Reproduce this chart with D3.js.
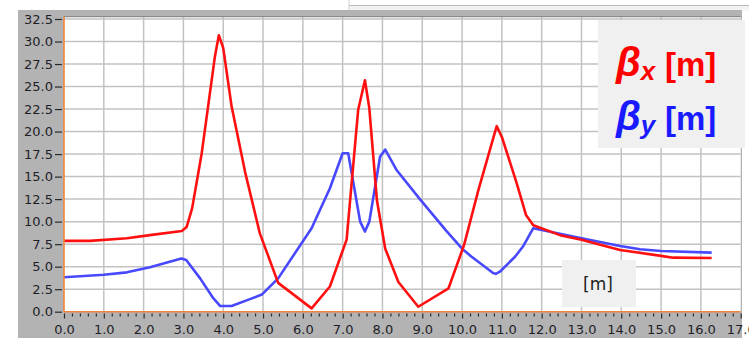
<!DOCTYPE html>
<html>
<head>
<meta charset="utf-8">
<script src="https://cdn.jsdelivr.net/npm/d3@7"></script>
<style>
  html, body { margin: 0; padding: 0; background: #ffffff; }
  svg { display: block; }
</style>
</head>
<body>
<svg id="chart" width="749" height="338"></svg>
<script>
// ---- data ----
const sPosX = [0, 0.65, 1.58, 2.16, 2.96, 3.08, 3.22, 3.46, 3.79, 3.89, 4.0, 4.21, 4.55, 4.92, 5.38, 6.22, 6.68, 7.1, 7.39, 7.56, 7.67, 7.86, 8.07, 8.4, 8.9, 9.66, 10.05, 10.41, 10.87, 11.0, 11.37, 11.61, 11.79, 12.46, 13.0, 13.97, 15.0, 15.3, 16.27];
const betaX = [7.86, 7.86, 8.15, 8.5, 8.97, 9.4, 11.5, 17.6, 28.3, 30.7, 29.3, 22.8, 15.5, 8.7, 3.2, 0.37, 2.8, 8.0, 22.4, 25.7, 22.6, 12.4, 7.0, 3.3, 0.55, 2.6, 7.4, 13.5, 20.6, 19.4, 14.3, 10.7, 9.6, 8.5, 8.0, 6.85, 6.2, 6.0, 5.97];
const sPosY = [0, 1.0, 1.58, 2.16, 2.95, 3.07, 3.42, 3.75, 3.92, 4.21, 4.67, 4.97, 5.38, 6.22, 6.68, 7.0, 7.14, 7.44, 7.56, 7.67, 7.94, 8.07, 8.36, 8.94, 9.6, 10.0, 10.24, 10.78, 10.85, 10.95, 11.33, 11.54, 11.79, 13.0, 13.97, 14.47, 15.0, 16.27];
const betaY = [3.82, 4.1, 4.37, 4.93, 5.9, 5.75, 3.7, 1.5, 0.65, 0.63, 1.4, 1.9, 3.7, 9.27, 13.7, 17.6, 17.6, 10.0, 8.9, 10.0, 17.2, 18.0, 15.7, 12.5, 9.0, 7.0, 6.1, 4.3, 4.2, 4.44, 6.1, 7.3, 9.27, 8.15, 7.3, 6.93, 6.74, 6.56];
const xMajorTicks = [0, 1, 2, 3, 4, 5, 6, 7, 8, 9, 10, 11, 12, 13, 14, 15, 16, 17];
const yTicks = [0, 2.5, 5, 7.5, 10, 12.5, 15, 17.5, 20, 22.5, 25, 27.5, 30, 32.5];
const legendLabels = ["x", "y"];
const unitLabel = "[m]";

// ---- layout ----
const svg = d3.select("#chart");
const x = d3.scaleLinear().domain([0, 17]).range([64, 740.7]);
const y = d3.scaleLinear().domain([0, 32.5]).range([311.7, 19]);
const plotTop = 16.7;

// background frame
svg.append("rect").attr("x", 349).attr("y", 5.5).attr("width", 400).attr("height", 5)
  .attr("fill", "#f2f2f2");
svg.append("line").attr("x1", 349).attr("x2", 749).attr("y1", 5.5).attr("y2", 5.5)
  .attr("stroke", "#bdbdbd").attr("stroke-width", 1);
svg.append("line").attr("x1", 349).attr("x2", 349).attr("y1", 0).attr("y2", 10)
  .attr("stroke", "#d0d0d0").attr("stroke-width", 1);
svg.append("rect").attr("x", 18).attr("y", 10).attr("width", 724).attr("height", 328)
  .attr("fill", "#b3b3b3");

// plot area
svg.append("rect").attr("x", x(0)).attr("y", plotTop)
  .attr("width", x(17) - x(0)).attr("height", y(0) - plotTop)
  .attr("fill", "#ffffff");

// grid
const grid = svg.append("g");
grid.selectAll("line.v").data(xMajorTicks.filter(d => d > 0 && d < 17)).enter().append("line")
  .attr("x1", d => x(d)).attr("x2", d => x(d)).attr("y1", plotTop).attr("y2", y(0))
  .attr("stroke", "#c2c2c2").attr("stroke-width", 1.5);
grid.selectAll("line.h").data(yTicks.filter(d => d > 0)).enter().append("line")
  .attr("x1", x(0)).attr("x2", x(17)).attr("y1", d => y(d)).attr("y2", d => y(d))
  .attr("stroke", "#c2c2c2").attr("stroke-width", 1.5);
// plot top border
svg.append("line").attr("x1", x(0)).attr("x2", x(17)).attr("y1", plotTop).attr("y2", plotTop)
  .attr("stroke", "#8a8a8a").attr("stroke-width", 1.2);

// curves
const line = d3.line().x(d => x(d[0])).y(d => y(d[1]));
svg.append("path").datum(sPosY.map((s, i) => [s, betaY[i]]))
  .attr("d", line).attr("fill", "none").attr("stroke", "#4848ff")
  .attr("stroke-width", 2.6).attr("stroke-linejoin", "round");
svg.append("path").datum(sPosX.map((s, i) => [s, betaX[i]]))
  .attr("d", line).attr("fill", "none").attr("stroke", "#ff1010")
  .attr("stroke-width", 2.6).attr("stroke-linejoin", "round");

// orange axis lines
svg.append("line").attr("x1", x(0)).attr("x2", x(0)).attr("y1", plotTop).attr("y2", y(0))
  .attr("stroke", "#f0843c").attr("stroke-width", 1.6);
svg.append("line").attr("x1", x(0)).attr("x2", x(17)).attr("y1", y(0)).attr("y2", y(0))
  .attr("stroke", "#f0843c").attr("stroke-width", 1.6);

// axes
const fmt = d3.format(".1f");
const labelColor = "#1e1e28";
const yAxis = svg.append("g").attr("transform", "translate(62,0)")
  .call(d3.axisLeft(y).tickValues(yTicks).tickFormat(fmt).tickSize(7).tickPadding(2));
const xMinor = d3.range(0, 17.001, 0.2).filter(v => Math.abs(v - Math.round(v)) > 1e-6);
const xAxisMinor = svg.append("g").attr("transform", "translate(0,313.5)")
  .call(d3.axisBottom(x).tickValues(xMinor).tickFormat("").tickSize(3));
const xAxis = svg.append("g").attr("transform", "translate(0,313.5)")
  .call(d3.axisBottom(x).tickValues(xMajorTicks).tickFormat(fmt).tickSize(5).tickPadding(6));
[xAxis, yAxis, xAxisMinor].forEach(g => {
  g.select(".domain").remove();
  g.selectAll(".tick line").attr("stroke", "#2a2a2a").attr("stroke-width", 1.2);
  g.selectAll(".tick text").attr("fill", labelColor)
    .style("font-family", "'DejaVu Sans', sans-serif").style("font-size", "13px");
});

// legend box
const leg = svg.append("g");
leg.append("rect").attr("x", 598).attr("y", 20).attr("width", 147).attr("height", 128)
  .attr("fill", "#f0f0f0");
const legColors = ["#ff0000", "#1a1aff"];
const legBase = [76, 130];
legendLabels.forEach((sub, i) => {
  const t = leg.append("text").attr("x", 616).attr("y", legBase[i])
    .attr("fill", legColors[i])
    .style("font-family", "'Liberation Sans', Arial, sans-serif")
    .style("font-weight", "bold");
  t.append("tspan").text("β").style("font-style", "italic").style("font-size", "40px");
  t.append("tspan").text(sub).attr("dy", 4).style("font-style", "italic").style("font-size", "26px");
  leg.append("text").attr("x", 665).attr("y", legBase[i])
    .attr("fill", legColors[i])
    .style("font-family", "'Liberation Sans', Arial, sans-serif")
    .style("font-weight", "bold").style("font-size", "33px")
    .text(unitLabel);
});

// [m] unit box
svg.append("rect").attr("x", 562).attr("y", 260).attr("width", 74).attr("height", 47)
  .attr("fill", "#f0f0f0");
svg.append("text").attr("x", 598).attr("y", 290).attr("text-anchor", "middle")
  .attr("fill", "#222")
  .style("font-family", "'DejaVu Sans', sans-serif").style("font-size", "17px")
  .text(unitLabel);
</script>
</body>
</html>
